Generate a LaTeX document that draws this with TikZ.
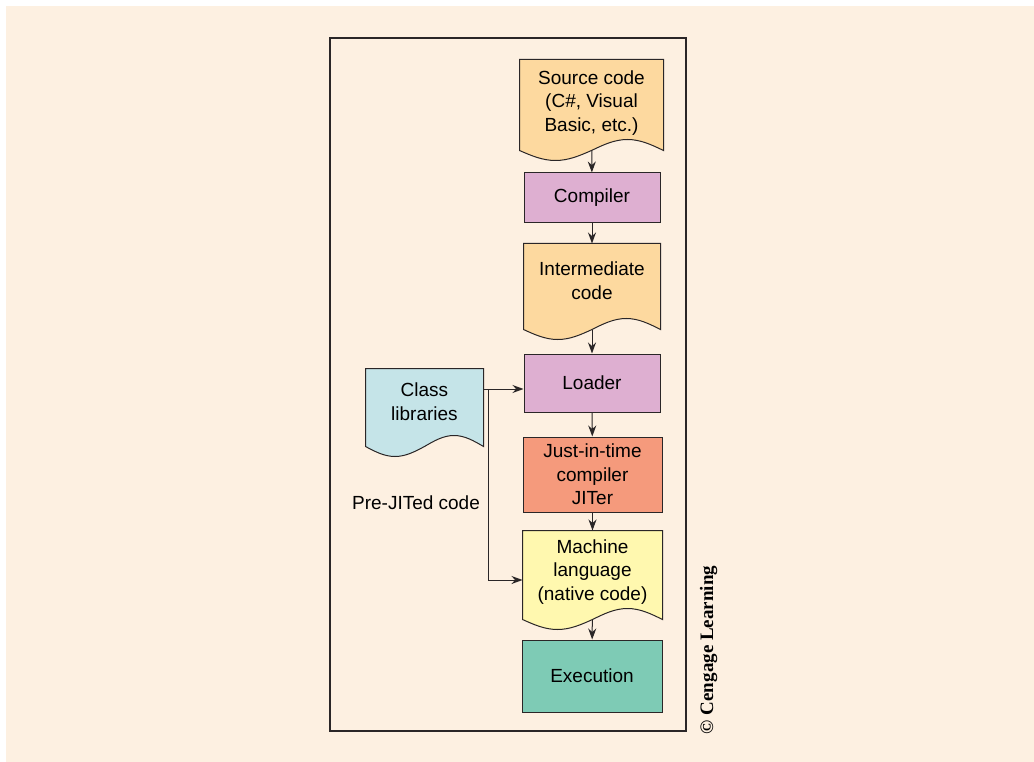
\documentclass[tikz,border=0pt]{standalone}
\usepackage{fontspec}
\setmainfont{Liberation Sans}
\newfontfamily\creditfont{Liberation Serif}
\usetikzlibrary{arrows.meta,calc,backgrounds}
\newdimen\unitsize
\setlength{\unitsize}{1pt}

\definecolor{pageback}{HTML}{FDF0E1}
\definecolor{codefill}{HTML}{FDD99F}
\definecolor{stepfill}{HTML}{DEAFD1}
\definecolor{jitfill}{HTML}{F59A7C}
\definecolor{machfill}{HTML}{FFF8AF}
\definecolor{execfill}{HTML}{7ECBB5}
\definecolor{libfill}{HTML}{C5E4E8}
\definecolor{inkline}{HTML}{2A2627}

% wavy-bottom document outline round a node
\newcommand{\docpath}[2]{%
  \draw[docline, fill=#2] (#1.south east) -- (#1.north east) -- (#1.north west) -- (#1.south west)
    sin ($(#1.south west)!0.25!(#1.south east)+(0,10)$)
    cos ($(#1.south west)!0.5!(#1.south east)$)
    sin ($(#1.south west)!0.75!(#1.south east)+(0,-11)$)
    cos (#1.south east) -- cycle;}

\begin{document}
\begin{tikzpicture}[x=\unitsize,y=-\unitsize,baseline=0]
\tikzset{docline/.style={draw=inkline, line width=1pt}}%
\tikzset{box/.style={docline, align=center, inner sep=0pt, font=\fontsize{19}{23.5}\selectfont}}%
\tikzset{doc/.style={box, draw=none}}%
\tikzset{flow/.style={draw=inkline, line width=1pt, -{Stealth[length=11pt,width=8pt]}}}%
\useasboundingbox (0,0) rectangle (1034,762);
\begin{scope}[on background layer]
\fill[pageback] (6,6) rectangle (1034,762);
\end{scope}
\draw[docline, line width=1.5pt] (330,38) rectangle (686,731);
% main chain
\node[doc, minimum width=143pt, minimum height=90pt, text depth=8pt] (src) at (591.5,105) {Source code\\(C\#, Visual\\Basic, etc.)};
\node[box, fill=stepfill, minimum width=136pt, minimum height=50pt] (comp) at (592,198) {Compiler};
\node[doc, minimum width=136pt, minimum height=85pt, text depth=12pt] (inter) at (592,286.5) {Intermediate\\code};
\node[box, fill=stepfill, minimum width=136pt, minimum height=58pt] (loader) at (592,383) {Loader};
\node[box, fill=jitfill, minimum width=139pt, minimum height=75pt] (jit) at (592.5,474.5) {Just-in-time\\compiler\\JITer};
\node[doc, minimum width=139pt, minimum height=88pt, text depth=10pt] (mach) at (592.5,575) {Machine\\language\\(native code)};
\node[box, fill=execfill, minimum width=140pt, minimum height=72pt] (exec) at (592,676) {Execution};
% side input
\node[doc, minimum width=117pt, minimum height=77pt, text depth=12pt] (libs) at (424.5,407.5) {Class\\libraries};
\node[font=\fontsize{19}{23.5}\selectfont] (prejit) at (416,503) {Pre-JITed code};
\node[rotate=90, font=\creditfont\bfseries\fontsize{19}{22}\selectfont] (credit) at (708.5,650) {\textcopyright\ Cengage Learning};
\begin{scope}[on background layer]
\docpath{src}{codefill}
\docpath{inter}{codefill}
\docpath{mach}{machfill}
\docpath{libs}{libfill}
\end{scope}
\coordinate (split) at (488,389);
\coordinate (bend) at (488,580);
\draw[flow] (src) -- (comp);
\draw[flow] (comp) -- (inter);
\draw[flow] (inter) -- (loader);
\draw[flow] (loader) -- (jit);
\draw[flow] (jit) -- (mach);
\draw[flow] (mach) -- (exec);
\draw[flow] (libs.east |- split) -- (loader.west |- split);
\draw[flow] (split) -- (bend) -- (mach.west |- bend);
\end{tikzpicture}
\end{document}
